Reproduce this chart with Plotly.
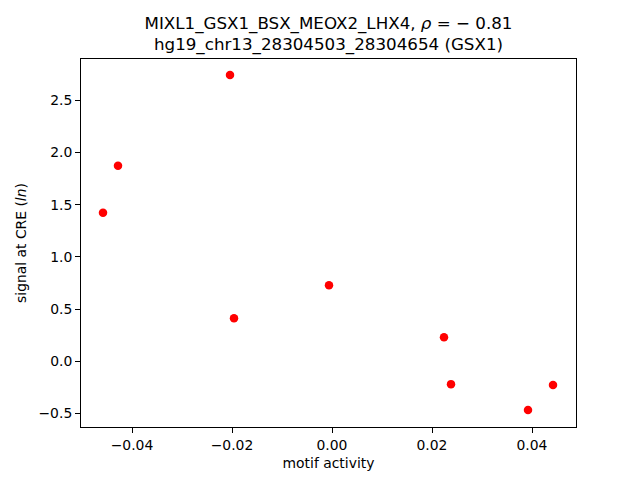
import plotly.graph_objects as go

motif_activity = [-0.0458, -0.0428, -0.0204, -0.0196, -0.0006, 0.0224, 0.0238, 0.0392, 0.0442]
signal = [1.424, 1.874, 2.744, 0.411, 0.727, 0.229, -0.220, -0.468, -0.229]
x_ticks = [-0.04, -0.02, 0.0, 0.02, 0.04]
x_tick_labels = ["\u22120.04", "\u22120.02", "0.00", "0.02", "0.04"]
y_ticks = [-0.5, 0.0, 0.5, 1.0, 1.5, 2.0, 2.5]
y_tick_labels = ["\u22120.5", "0.0", "0.5", "1.0", "1.5", "2.0", "2.5"]

fig = go.Figure()
fig.add_trace(go.Scatter(x=motif_activity, y=signal, mode="markers",
                         marker=dict(color="red", size=8.5, line=dict(width=0)),
                         showlegend=False))

axis_common = dict(showgrid=False, zeroline=False, showline=True, linecolor="black",
                   linewidth=1, mirror=True, ticks="outside", ticklen=5, tickwidth=1,
                   tickcolor="black", automargin=False,
                   tickfont=dict(family="DejaVu Sans", size=13.9, color="black"))

fig.update_layout(
    width=640, height=480,
    margin=dict(l=73, r=72, t=51, b=61, autoexpand=False),
    plot_bgcolor="white", paper_bgcolor="white",
    font=dict(family="DejaVu Sans", color="black"),
    title=dict(text="MIXL1_GSX1_BSX_MEOX2_LHX4, <i>\u03c1</i> = \u2212 0.81<br>hg19_chr13_28304503_28304654 (GSX1)",
               x=0.5, xref="paper", xanchor="center",
               y=0.957, yref="container", yanchor="top", automargin=False,
               font=dict(family="DejaVu Sans", size=16.7, color="black")),
    xaxis=dict(range=[-0.0502, 0.0488], tickvals=x_ticks, ticktext=x_tick_labels,
               title=dict(text="motif activity", font=dict(size=13.9), standoff=6), **axis_common),
    yaxis=dict(range=[-0.631, 2.897], tickvals=y_ticks, ticktext=y_tick_labels,
               title=dict(text="signal at CRE (<i>ln</i>)", font=dict(size=13.9), standoff=8), **axis_common),
)

fig.write_html("out.html")
